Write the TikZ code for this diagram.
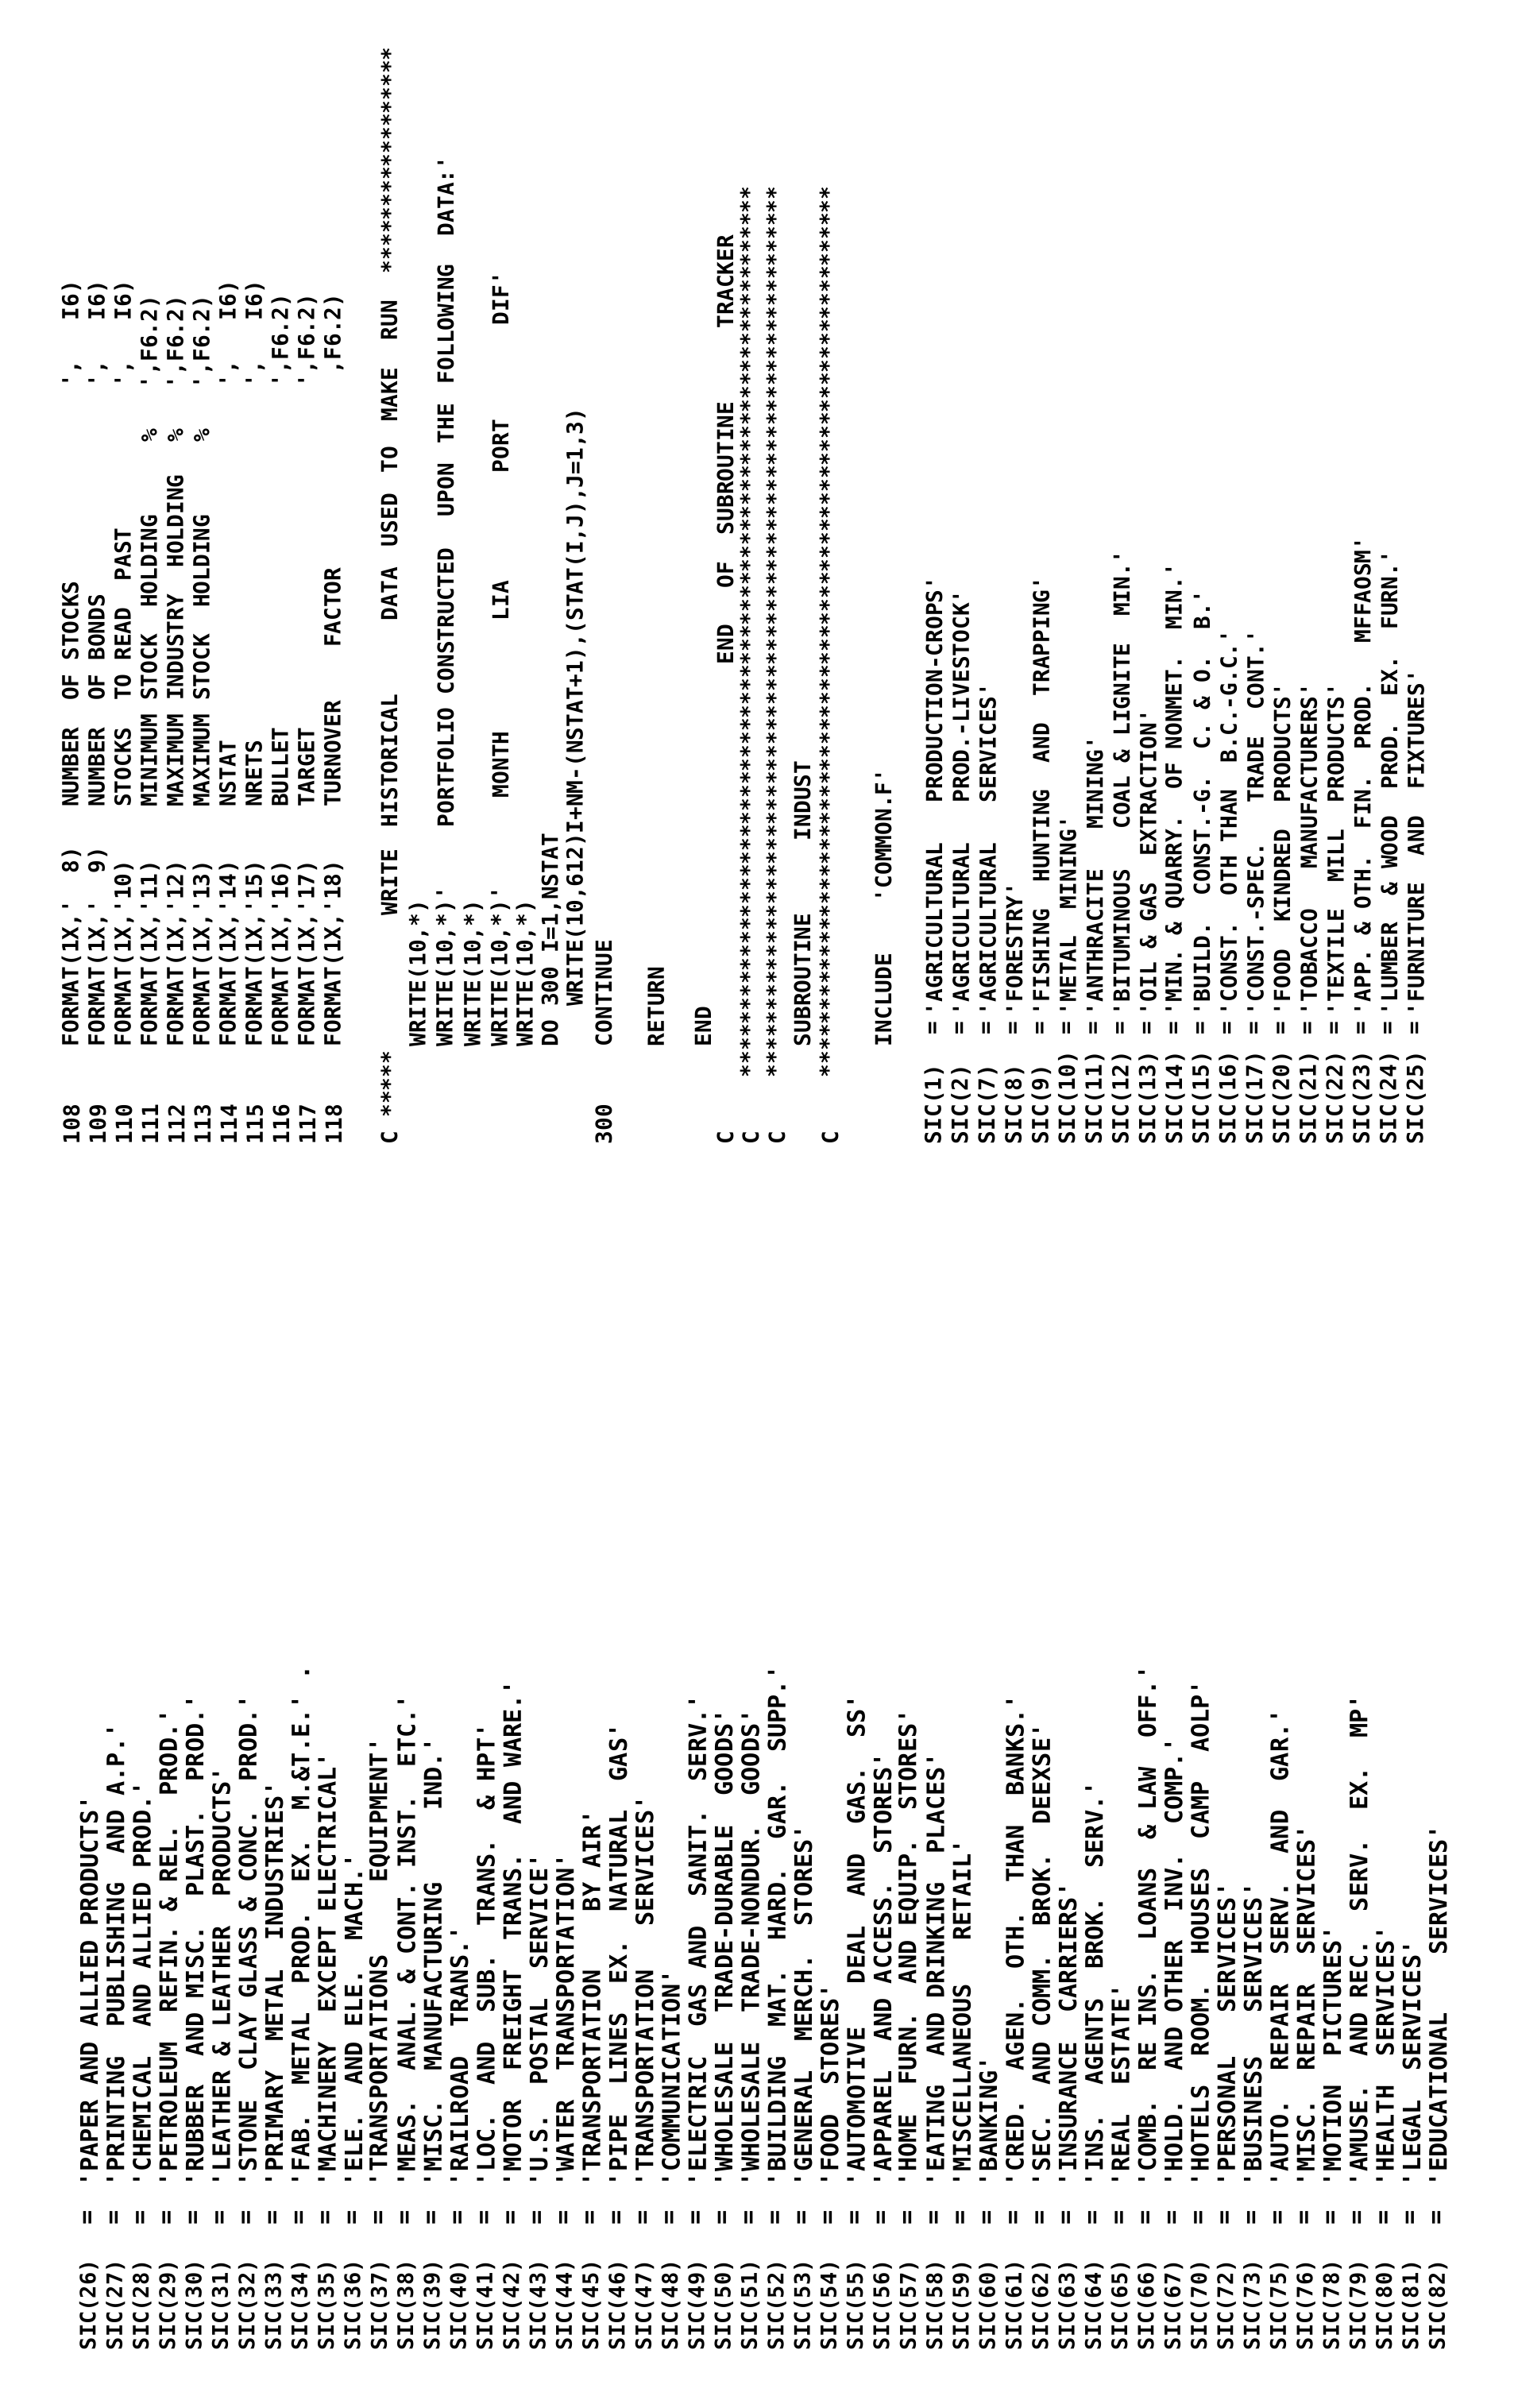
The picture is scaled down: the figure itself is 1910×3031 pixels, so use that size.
\documentclass[tikz,border=0pt]{standalone}
\usepackage{fontspec}
\newfontfamily\codefont{DejaVu Sans Mono}
\newcounter{nc}
\tikzset{
  base/.style={rotate=90,anchor=west,inner sep=0pt,outer sep=0pt},
  rt/.style={base,font=\codefont\bfseries\fontsize{6.95pt}{8pt}\selectfont},
  lt/.style={base,font=\codefont\bfseries\fontsize{7.56pt}{8pt}\selectfont},
  ll/.style={base,font=\codefont\bfseries\fontsize{6.75pt}{8pt}\selectfont}
}
\newcommand\R[3]{\stepcounter{nc}\node[rt] (n\arabic{nc}) at (#1,#2) {#3};}
\newcommand\LS[3]{\stepcounter{nc}\node[ll] (n\arabic{nc}) at (#1,2958) {SIC(#2)};%
  \stepcounter{nc}\node[lt] (n\arabic{nc}) at (#1,2800) {=};%
  \stepcounter{nc}\node[lt] (n\arabic{nc}) at (#1,2752) {#3};}
\newcommand\RS[3]{\R{#1}{1440}{SIC(#2)}\R{#1}{1302}{=}\R{#1}{1278}{#3}}
\newcommand\ST{*******************************************************************}
\begin{document}
\begin{tikzpicture}[x=0.25pt,y=-0.25pt]
\fill[white] (0,0) rectangle (1910,3031);
\useasboundingbox (0,0) rectangle (1910,3031);
% ---------------- upper block ----------------
\R{90}{1440}{108}\R{90}{1317}{FORMAT(1X,'~~8)~~~NUMBER~~OF~STOCKS}\R{90}{487}{',~~~I6)}
\R{123}{1440}{109}\R{123}{1317}{FORMAT(1X,'~~9)~~~NUMBER~~OF~BONDS}\R{123}{487}{',~~~I6)}
\R{156}{1440}{110}\R{156}{1317}{FORMAT(1X,'10)~~~~STOCKS~~TO~READ~~PAST}\R{156}{487}{',~~~I6)}
\R{189}{1440}{111}\R{189}{1317}{FORMAT(1X,'11)~~~~MINIMUM~STOCK~~HOLDING}\R{189}{556}{\%~~~',F6.2)}
\R{222}{1440}{112}\R{222}{1317}{FORMAT(1X,'12)~~~~MAXIMUM~INDUSTRY~~HOLDING}\R{222}{556}{\%~~~',F6.2)}
\R{255}{1440}{113}\R{255}{1317}{FORMAT(1X,'13)~~~~MAXIMUM~STOCK~~HOLDING}\R{255}{556}{\%~~~',F6.2)}
\R{288}{1440}{114}\R{288}{1317}{FORMAT(1X,'14)~~~~NSTAT}\R{288}{487}{',~~~I6)}
\R{321}{1440}{115}\R{321}{1317}{FORMAT(1X,'15)~~~~NRETS}\R{321}{487}{',~~~I6)}
\R{354}{1440}{116}\R{354}{1317}{FORMAT(1X,'16)~~~~BULLET}\R{354}{487}{',F6.2)}
\R{387}{1440}{117}\R{387}{1317}{FORMAT(1X,'17)~~~~TARGET}\R{387}{487}{',F6.2)}
\R{420}{1440}{118}\R{420}{1317}{FORMAT(1X,'18)~~~~TURNOVER~~~~FACTOR}\R{420}{470}{,F6.2)}
\R{490}{1440}{C~*****}
\R{490}{1152}{WRITE}\R{490}{1041}{HISTORICAL}\R{490}{781}{DATA}\R{490}{688}{USED}
\R{490}{595}{TO}\R{490}{530}{MAKE}\R{490}{428}{RUN}\R{490}{344}{*****************}
\R{527}{1317}{WRITE(10,*)}
\R{561}{1317}{WRITE(10,*)'}\R{561}{1041}{PORTFOLIO}\R{561}{874}{CONSTRUCTED}\R{561}{650}{UPON}
\R{561}{558}{THE}\R{561}{483}{FOLLOWING}\R{561}{297}{DATA:'}
\R{596}{1317}{WRITE(10,*)}
\R{630}{1317}{WRITE(10,*)'}\R{630}{1004}{MONTH}\R{630}{781}{LIA}\R{630}{595}{PORT}\R{630}{409}{DIF'}
\R{662}{1317}{WRITE(10,*)}
\R{694}{1317}{DO~300~I=1,NSTAT}
\R{725}{1317}{~~~WRITE(10,612)I+NM-(NSTAT+1),(STAT(I,J),J=1,3)}
\R{760}{1440}{300}\R{760}{1317}{CONTINUE}
\R{826}{1317}{RETURN}
\R{885}{1317}{END}
\R{913}{1440}{C}\R{913}{836}{END}\R{913}{740}{OF}\R{913}{673}{SUBROUTINE}\R{913}{413}{TRACKER}
\R{945}{1440}{C}\R{942}{1356}{\ST}
\R{978}{1440}{C}\R{975}{1356}{\ST}
\R{1010}{1317}{SUBROUTINE}\R{1010}{1058}{INDUST}
\R{1045}{1440}{C}\R{1042}{1356}{\ST}
\R{1112}{1317}{INCLUDE}\R{1112}{1135}{'COMMON.F'}
\RS{1176}{1}{'AGRICULTURAL~~~PRODUCTION-CROPS'}
\RS{1209.7}{2}{'AGRICULTURAL~~~PROD.-LIVESTOCK'}
\RS{1243.4}{7}{'AGRICULTURAL~~~SERVICES'}
\RS{1277.1}{8}{'FORESTRY'}
\RS{1310.8}{9}{'FISHING~~HUNTING~~AND~~TRAPPING'}
\RS{1344.5}{10}{'METAL~~MINING'}
\RS{1378.2}{11}{'ANTHRACITE~~~MINING'}
\RS{1411.9}{12}{'BITUMINOUS~~~COAL~\&~LIGNITE~~MIN.'}
\RS{1445.6}{13}{'OIL~\&~GAS~~EXTRACTION'}
\RS{1479.3}{14}{'MIN.~\&~QUARRY.~~OF~NONMET.~~MIN.'}
\RS{1513}{15}{'BUILD.~~CONST.-G.~~C.~\&~O.~~B.'}
\RS{1546.7}{16}{'CONST.~~OTH~THAN~~B.C.-G.C.'}
\RS{1580.4}{17}{'CONST.-SPEC.~~~TRADE~~CONT.'}
\RS{1614.1}{20}{'FOOD~~KINDRED~~PRODUCTS'}
\RS{1647.8}{21}{'TOBACCO~~~MANUFACTURERS'}
\RS{1681.5}{22}{'TEXTILE~~MILL~~PRODUCTS'}
\RS{1715.2}{23}{'APP.~\&~OTH.~~FIN.~~PROD.~~~MFFAOSM'}
\RS{1748.9}{24}{'LUMBER~~\&~WOOD~~PROD.~~EX.~~FURN.'}
\RS{1782.6}{25}{'FURNITURE~~AND~~FIXTURES'}
% ---------------- lower block ----------------
\LS{112}{26}{'PAPER~AND~ALLIED~PRODUCTS'}
\LS{145.3}{27}{'PRINTING~~PUBLISHING~~AND~A.P.'}
\LS{178.6}{28}{'CHEMICAL~~AND~ALLIED~PROD.'}
\LS{211.9}{29}{'PETROLEUM~~REFIN.~\&~REL.~~PROD.'}
\LS{245.2}{30}{'RUBBER~~AND~MISC.~~PLAST.~~PROD.'}
\LS{278.5}{31}{'LEATHER~\&~LEATHER~~PRODUCTS'}
\LS{311.8}{32}{'STONE~~CLAY~GLASS~\&~CONC.~~PROD.'}
\LS{345.1}{33}{'PRIMARY~~METAL~~INDUSTRIES'}
\LS{378.4}{34}{'FAB.~~METAL~~PROD.~~EX.~~M.\&T.E.'~.}
\LS{411.7}{35}{'MACHINERY~~EXCEPT~ELECTRICAL'}
\LS{445}{36}{'ELE.~~AND~ELE.~~MACH.'}
\LS{478.3}{37}{'TRANSPORTATIONS~~~~~EQUIPMENT'}
\LS{511.6}{38}{'MEAS.~~ANAL.~\&~CONT.~INST.~~ETC.'}
\LS{544.9}{39}{'MISC.~~MANUFACTURING~~~~~IND.'}
\LS{578.2}{40}{'RAILROAD~~TRANS.'}
\LS{611.5}{41}{'LOC.~~AND~~SUB.~~TRANS.~~\&~HPT'}
\LS{644.8}{42}{'MOTOR~~FREIGHT~~TRANS.~~AND~WARE.'}
\LS{678.1}{43}{'U.S.~~POSTAL~~SERVICE'}
\LS{711.4}{44}{'WATER~~TRANSPORTATION'}
\LS{744.7}{45}{'TRANSPORTATION~~~~BY~AIR'}
\LS{778}{46}{'PIPE~~LINES~~EX.~~NATURAL~~GAS'}
\LS{811.3}{47}{'TRANSPORTATION~~~SERVICES'}
\LS{844.6}{48}{'COMMUNICATION'}
\LS{877.9}{49}{'ELECTRIC~~GAS~AND~~SANIT.~~SERV.'}
\LS{911.2}{50}{'WHOLESALE~~TRADE-DURABLE~~GOODS'}
\LS{944.5}{51}{'WHOLESALE~~TRADE-NONDUR.~~GOODS'}
\LS{977.8}{52}{'BUILDING~~MAT.~~HARD.~~GAR.~~SUPP.'}
\LS{1011.1}{53}{'GENERAL~~MERCH.~~STORES'}
\LS{1044.4}{54}{'FOOD~~STORES'}
\LS{1077.7}{55}{'AUTOMOTIVE~~~DEAL~~AND~~GAS.~~SS'}
\LS{1111}{56}{'APPAREL~~AND~ACCESS.~~STORES'}
\LS{1144.3}{57}{'HOME~~FURN.~~AND~EQUIP.~~STORES'}
\LS{1177.6}{58}{'EATING~~AND~DRINKING~~PLACES'}
\LS{1210.9}{59}{'MISCELLANEOUS~~~RETAIL'}
\LS{1244.2}{60}{'BANKING'}
\LS{1277.5}{61}{'CRED.~~AGEN.~~OTH.~~THAN~~BANKS.'}
\LS{1310.8}{62}{'SEC.~~AND~COMM.~~BROK.~~DEEXSE'}
\LS{1344.1}{63}{'INSURANCE~~CARRIERS'}
\LS{1377.4}{64}{'INS.~~AGENTS~~BROK.~~SERV.'}
\LS{1410.7}{65}{'REAL~~ESTATE'}
\LS{1444}{66}{'COMB.~~RE~INS.~~LOANS~~\&~LAW~~OFF.'}
\LS{1477.3}{67}{'HOLD.~~AND~OTHER~~INV.~~COMP.'}
\LS{1510.6}{70}{'HOTELS~~ROOM.~~HOUSES~~CAMP~~AOLP'}
\LS{1543.9}{72}{'PERSONAL~~~SERVICES'}
\LS{1577.2}{73}{'BUSINESS~~~SERVICES'}
\LS{1610.5}{75}{'AUTO.~~REPAIR~~SERV.~~AND~~GAR.'}
\LS{1643.8}{76}{'MISC.~~REPAIR~~SERVICES'}
\LS{1677.1}{78}{'MOTION~~PICTURES'}
\LS{1710.4}{79}{'AMUSE.~~AND~REC.~~SERV.~~EX.~~MP'}
\LS{1743.7}{80}{'HEALTH~~SERVICES'}
\LS{1777}{81}{'LEGAL~~SERVICES'}
\LS{1810.3}{82}{'EDUCATIONAL~~~~SERVICES'}
\end{tikzpicture}
\end{document}
